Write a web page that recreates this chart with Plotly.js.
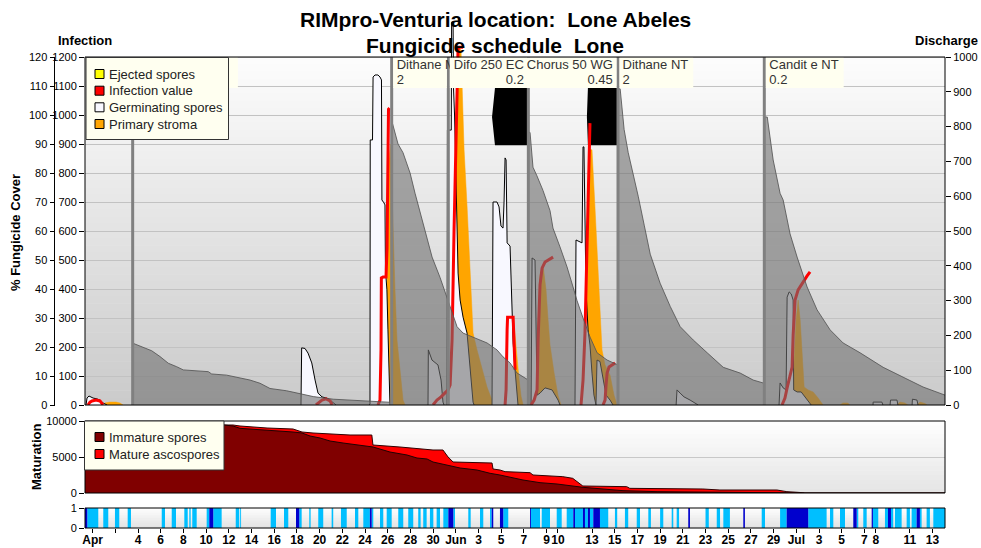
<!DOCTYPE html>
<html><head><meta charset="utf-8">
<script src="https://cdn.plot.ly/plotly-3.0.1.min.js"></script>
<style>html,body{margin:0;padding:0;background:#fff}#chart{width:981px;height:548px}</style>
</head><body><div id="chart"></div>
<script>
// ---------------- DATA (x = days since 30 April 00:00) ----------------
const tickDays = [0,2,4,6,8,10,12,14,16,18,20,22,24,26,28,30,32,34,36,38,40,41,44,46,48,50,52,54,56,58,60,62,64,66,68,69,72,74];
const tickLabels = ['Apr','','4','6','8','10','12','14','16','18','20','22','24','26','28','30','Jun','3','5','7','9','10','13','15','17','19','21','23','25','27','29','Jul','3','5','7','8','11','13'];

// fungicide sprays
const sprayDay  = [3.53, 26.35, 31.34, 38.39, 46.29, 59.18];
const sprayName = ['Captan 800 WG','Dithane M45','Difo 250 EC','Chorus 50 WG','Dithane NT','Candit e NT'];
const sprayDose = ['0.8','2','0.2','0.45','2','0.2'];

// % fungicide cover
const coverDay = [3.55,4.33,4.77,5.21,5.94,6.67,7.41,7.99,10.19,10.49,11.81,12.99,13.87,14.75,15.63,17.1,18.27,19.44,21.21,23.27,24.73,26.35,26.36,26.91,27.35,27.97,28.41,29.03,29.47,29.91,30.61,31.23,32.11,32.64,33.52,34.75,35.63,36.16,36.78,37.4,38.39,38.4,38.54,38.8,39.15,39.68,40.3,40.56,41.18,41.8,42.33,42.68,43.21,43.83,44.45,45.33,46.29,46.3,46.48,46.83,47.19,47.63,48.07,48.6,49.13,50.0,50.89,51.77,52.92,54.15,55.56,57.06,58.2,59.08,59.18,59.19,59.44,59.96,60.57,60.84,61.45,62.07,62.95,63.83,64.98,66.12,67.62,69.65,71.41,73.17,75.1];
const coverPct = [21.3,20.1,19.5,18.7,16.7,14.4,13.2,12.1,11.5,10.7,10.3,9.2,8.6,7.5,5.7,4.9,4.0,2.9,2.0,1.5,1.1,0.9,98,90,87,80,73,64,58,51,44,37,27,24.8,23.4,21.4,19,16.6,14.5,11,8.6,94,94,82,79,74,67,61,54.5,47.6,40.7,36,30,23.4,18,15.5,13.8,109,109,95,87,80,72,62,52,42,34,27,22.4,18,13,11,8.6,7.6,7.5,99.3,99.3,84.5,73,70.7,59,51,40.7,32.8,25.9,21.4,18,13,9.7,6.2,3.4];

// germinating spores (infection scale)
const germDay = [-0.58,-0.49,-0.32,0.04,0.39,0.65,0.92,1.27,null,
 18.36,18.42,18.71,18.98,19.31,19.42,19.6,19.86,20.21,20.74,21.18,21.45,null,
 24.35,24.44,24.46,24.66,24.71,24.88,25.14,25.32,25.45,25.49,25.67,25.76,25.8,25.93,26.02,26.11,26.2,null,
 29.55,29.58,29.9,30.43,30.7,30.87,30.96,null,
 31.23,31.26,31.6,31.63,31.76,31.8,31.89,31.98,32.11,32.2,32.38,32.64,32.99,33.26,33.52,33.61,null,
 35.19,35.28,35.63,35.81,35.98,36.16,36.25,36.34,36.43,36.52,36.78,36.96,37.05,37.22,37.4,37.48,null,
 38.63,38.72,38.98,39.07,39.16,39.42,39.86,40.48,41.01,41.18,null,
 42.5,42.59,43.12,43.21,43.29,43.38,43.47,43.65,43.82,44.0,44.17,44.35,null,
 44.35,44.44,44.7,44.97,45.24,45.59,45.85,null,
 51.41,51.49,51.76,52.11,52.64,53.17,53.35,null,
 60.48,60.57,60.84,61.1,61.19,61.37,61.55,61.72,61.77,62.07,62.43,62.78,63.13,63.31,null,
 68.76,68.77,69.54,69.63,null, 70.26,70.3,70.87,70.95,null, 72.2,72.23,72.63,72.72];
const germVal = [0,24,31,24,21,17,7,0,null,
 0,197,195,179,145,121,86,41,28,22,10,0,null,
 0,3,914,914,1131,1138,1138,1131,1121,707,697,690,466,397,259,86,0,null,
 0,190,155,138,86,10,0,null,
 0,948,948,1320,1320,1090,1000,800,614,455,362,303,248,110,10,0,null,
 0,700,700,683,617,610,700,852,845,559,548,362,214,121,17,0,null,
 0,507,500,259,34,41,59,52,17,0,null,
 0,569,559,890,890,534,397,259,207,110,34,0,null,
 0,155,150,86,34,17,0,null,
 0,52,41,28,17,3,0,null,
 0,76,59,52,372,390,383,362,52,45,45,28,7,0,null,
 0,10,10,0,null, 0,17,17,0,null, 0,20,17,0];

// infection value
const infDay = [-0.41,-0.23,-0.05,0.3,0.65,0.83,0.92,null,
 19.68,19.95,20.21,20.57,20.92,21.1,null,
 25.14,25.32,25.41,25.44,25.59,25.85,25.94,26.03,26.07,26.16,null,
 29.99,30.34,30.7,31.05,31.32,31.5,31.67,31.85,32.02,32.11,32.2,32.64,null,
 36.34,36.43,36.52,36.56,37.05,37.13,37.22,null,
 38.63,38.9,39.16,39.25,39.42,39.6,39.86,40.13,40.57,null,
 43.03,43.21,43.38,43.55,43.73,43.82,null,
 44.97,45.15,45.24,45.33,45.5,45.77,46.03,null,
 60.74,61.0,61.19,61.45,61.63,61.72,61.89,62.16,62.42,62.69,62.95,63.21];
const infVal = [0,10,14,17,14,7,0,null,
 0,10,17,21,14,0,null,
 0,17,190,438,441,441,540,880,1020,1024,null,
 0,17,28,41,52,69,224,614,914,1121,1234,1234,null,
 0,52,259,303,303,224,121,null,
 0,17,52,224,414,472,493,500,510,null,
 0,86,248,545,776,972,null,
 0,17,69,110,131,138,145,null,
 0,24,59,103,131,241,362,397,414,431,445,459];

// primary stroma
const stromaDay = [0.92,1.09,1.53,2.06,2.41,2.68,null,
 25.76,25.94,26.12,26.25,26.38,26.51,26.64,26.82,27.09,27.35,27.53,null,
 31.67,31.94,32.07,32.2,32.46,32.55,32.73,32.99,33.26,33.52,33.87,34.31,34.75,35.28,35.55,null,
 36.6,36.87,37.05,37.22,37.4,37.57,37.75,37.93,null,
 38.98,39.25,39.42,39.68,39.95,40.13,40.3,40.66,41.0,41.27,null,
 43.47,43.65,43.82,44.0,44.26,44.53,44.88,45.15,45.59,45.94,46.21,null,
 61.45,61.72,61.98,62.16,62.34,62.51,62.69,63.04,63.48,63.92,64.36,null,
 65.85,66.1,66.55,66.7,null, 70.87,71.13,71.57,71.83,null, 72.63,72.9,73.34,73.52];
const stromaVal = [0,7,10,10,7,0,null,
 0,400,850,900,700,600,400,224,110,17,0,null,
 0,600,1100,1234,1224,1090,880,686,455,248,190,121,62,7,0,null,
 0,200,303,240,150,90,30,0,null,
 0,259,448,483,397,293,207,110,34,0,null,
 0,700,880,880,683,455,190,138,103,34,0,null,
 0,86,293,362,293,155,62,52,45,24,0,null,
 0,7,7,0,null, 0,10,7,0,null, 0,10,5,0];

// ejected spores rendered black (over-range blocks)
const ejectDay = [35.45,38.39,38.39,35.45,35.19,35.45,null,43.64,46.29,46.29,43.64,43.55,43.64];
const ejectVal = [1093,1093,896,896,993,1093,null,1093,1093,896,896,993,1093];

// maturation
const immDay = [-0.67,5.0,10.0,11.58,12.37,12.99,15.37,17.66,18.45,19.16,20.04,20.92,22.07,23.56,24.71,26.2,27.7,28.58,29.47,29.99,31.23,32.38,33.87,35.02,35.89,37.92,39.42,40.92,43.21,44.97,46.73,49.73,54.13,61.18,62.76,75.1];
const immVal = [9950,9800,9600,9444,9306,8981,8750,8472,8333,7917,7639,7222,6944,6667,6389,5694,5278,4861,4722,4306,3889,3472,3194,2736,2500,1806,1435,1250,787,509,324,185,93,46,0,0];
const totDay = [-0.67,5.0,10.0,11.5,12.37,12.99,15.37,17.66,18.45,19.42,21.18,22.68,24.6,24.7,27.08,29.99,30.87,31.32,31.76,34.14,35.19,35.28,35.89,36.34,38.54,38.8,41.43,42.3,42.92,43.19,47.06,47.33,53.77,55.27,60.29,61.17,62.58,62.76,75.1];
const totVal = [9950,9800,9600,9444,9444,9306,9028,8889,8472,8333,8194,8056,8056,6667,6389,5972,5972,5000,4306,4167,4167,3333,3194,2963,2824,2500,2268,2037,1343,972,880,648,556,417,417,185,46,0,0];

// leaf wetness periods
const wetStart = [-0.47,0.94,1.97,3.09,6.09,6.97,8.08,8.52,8.78,10.05,10.63,12.61,13.0,15.69,16.86,18.21,19.09,19.88,21.06,21.88,23.12,23.85,24.59,25.32,25.91,26.93,27.81,28.69,29.13,29.72,30.31,30.9,31.78,33.1,34.13,35.01,36.18,38.62,39.57,40.89,41.77,42.5,43.38,43.82,44.7,46.02,46.9,47.94,48.96,50.0,51.02,51.46,54.0,54.99,55.57,58.95,60.57,63.05,64.97,65.85,67.32,67.9,68.75,69.81,70.34,70.69,71.72,72.16,72.89,73.48,74.07];
const wetEnd   = [0.5,1.38,2.35,3.38,6.38,7.35,8.38,8.64,9.17,10.28,11.37,12.92,13.08,16.16,17.24,18.42,19.21,20.32,21.2,22.39,23.41,24.43,24.73,25.61,26.35,27.37,28.25,28.9,29.43,30.02,30.61,31.34,31.93,33.31,34.42,35.16,36.62,39.42,40.3,41.33,42.35,43.2,43.64,44.11,45.43,46.22,47.19,48.23,49.19,50.28,51.16,51.67,54.29,55.28,56.15,59.24,61.15,64.67,65.26,66.29,67.46,68.2,69.22,70.08,70.54,71.28,72.01,72.6,73.04,73.77,75.1];
const rainStart = [-0.67,10.28,17.92,24.43,31.34,35.16,35.89,38.54,42.35,43.2,43.64,44.11,52.48,57.33,61.15,67.02,68.64,70.08,72.6];
const rainEnd   = [-0.47,10.63,18.21,24.59,31.78,35.3,36.18,38.62,42.5,43.38,43.82,44.7,52.63,57.47,63.05,67.32,68.75,70.34,72.89];

// ---------------- LAYOUT HELPERS ----------------
const W=981,H=548;
const PX=x=>x/W, PY=y=>1-y/H;
const X0=85,X1=945, MT=57, MB=405, ET=15, QT=421, QB=493, WT=508, WB=528;
const LEG_R=228.5;
const xRange=[-0.67,75.1];
const ext=(MB-ET)/(MB-MT);
const pxPerDay=(X1-X0)/(xRange[1]-xRange[0]);
const d2p=d=>X0+(d-xRange[0])*pxPerDay, p2d=p=>xRange[0]+(p-X0)/pxPerDay;
const infAt=py=>(MB-py)*1200/(MB-MT);
const FONT="Liberation Sans, Arial, sans-serif";
const range=(a,b,s)=>{const r=[];for(let v=a;v<=b+1e-9;v+=s)r.push(v);return r;};

const ctx=document.createElement('canvas').getContext('2d');
ctx.font="13px 'Liberation Sans'";
const tw=s=>ctx.measureText(s).width;
// keep only the glyphs whose centre is inside [lo,hi] (emulates the clipping of the label area)
function clipText(str,startPx,lo,hi){
  let first=-1,last=-1;
  for(let k=0;k<str.length;k++){
    const c=startPx+(tw(str.slice(0,k))+tw(str.slice(0,k+1)))/2;
    if(c>=lo&&c<=hi){if(first<0)first=k;last=k;}
  }
  if(first<0)return null;
  return {text:str.slice(first,last+1).trim(),start:startPx+tw(str.slice(0,first))};
}

const traces=[];
traces.push({x:ejectDay,y:ejectVal,mode:'lines',fill:'toself',fillcolor:'#000',line:{width:0,color:'#000'},xaxis:'x',yaxis:'y',hoverinfo:'skip'});
traces.push({x:stromaDay,y:stromaVal,mode:'lines',fill:'tozeroy',fillcolor:'#FFA500',line:{width:0.5,color:'#FFA500'},xaxis:'x',yaxis:'y',hoverinfo:'skip'});
traces.push({x:germDay,y:germVal,mode:'lines',fill:'tozeroy',fillcolor:'#F8F8FF',line:{width:1,color:'#000'},xaxis:'x',yaxis:'y',hoverinfo:'skip'});
traces.push({x:infDay,y:infVal,mode:'lines',line:{width:3,color:'#FF0000'},xaxis:'x',yaxis:'y',hoverinfo:'skip'});
// fungicide cover (overlay, drawn above infection data)
traces.push({x:coverDay,y:coverPct,mode:'lines',fill:'tozeroy',fillcolor:'rgba(112,112,112,0.6)',line:{width:1,color:'rgba(85,85,85,0.85)'},xaxis:'x',yaxis:'y2',hoverinfo:'skip'});
// spray lines
const sx=[],sy=[];
sprayDay.forEach(d=>{sx.push(d,d,null);sy.push(0,1000,null);});
traces.push({x:sx,y:sy,mode:'lines',line:{width:3,color:'#808080'},xaxis:'x',yaxis:'y3',hoverinfo:'skip'});
// spray label boxes + texts (top overlay); each later box hides the overflow of the previous label
const doseAlign=['left','left','right','right','left','left'];
const nameShiftPx=[7,5,5.5,-1.5,4.5,5];
sprayDay.forEach((d,i)=>{
  const sp=d2p(d);
  const nextLine=i<sprayDay.length-1?d2p(sprayDay[i+1]):X1;
  const lo=i===0?LEG_R:-1e9;
  const hi=nextLine+3;
  const ns=sp+nameShiftPx[i];
  const wn=tw(sprayName[i]);
  const bs=Math.min(sp+1.5,ns-1), be=Math.min(ns+wn+5,nextLine-1.5);
  const b0=infAt(88), b1=infAt(57.5);
  traces.push({x:[p2d(bs),p2d(be),p2d(be),p2d(bs),p2d(bs)],y:[b0,b0,b1,b1,b0],mode:'lines',fill:'toself',fillcolor:'#FFFFF0',line:{width:0},xaxis:'x',yaxis:'y6',hoverinfo:'skip'});
  const right=doseAlign[i]==='right';
  const tx=[],ty=[],tt=[],tp=[];
  const nm=clipText(sprayName[i],ns,lo,hi);
  if(nm){tx.push(p2d(nm.start));ty.push(infAt(66));tt.push(nm.text);tp.push('middle right');}
  const wd=tw(sprayDose[i]);
  const ds=right?ns+wn-wd:ns;
  const dz=clipText(sprayDose[i],ds,lo,hi);
  if(dz){
    if(right){tx.push(p2d(dz.start+tw(dz.text)));tp.push('middle left');}
    else{tx.push(p2d(dz.start));tp.push('middle right');}
    ty.push(infAt(81));tt.push(dz.text);
  }
  if(tt.length)traces.push({x:tx,y:ty,text:tt,mode:'text',textposition:tp,textfont:{family:FONT,size:13,color:'#333'},xaxis:'x',yaxis:'y6',hoverinfo:'skip'});
});
// maturation
traces.push({x:totDay,y:totVal,mode:'lines',fill:'tozeroy',fillcolor:'#FF0000',line:{width:1,color:'#300000'},xaxis:'x2',yaxis:'y4',hoverinfo:'skip'});
traces.push({x:immDay,y:immVal,mode:'lines',fill:'tozeroy',fillcolor:'#800000',line:{width:1,color:'#200000'},xaxis:'x2',yaxis:'y4',hoverinfo:'skip'});
// wetness bars
traces.push({type:'bar',x:wetStart.map((s,i)=>(s+wetEnd[i])/2),width:wetStart.map((s,i)=>wetEnd[i]-s),y:wetStart.map(()=>1),marker:{color:'#00BFFF',line:{width:0}},xaxis:'x3',yaxis:'y5',hoverinfo:'skip'});
traces.push({type:'bar',x:rainStart.map((s,i)=>(s+rainEnd[i])/2),width:rainStart.map((s,i)=>rainEnd[i]-s),y:rainStart.map(()=>1),marker:{color:'#0000CD',line:{width:0}},xaxis:'x3',yaxis:'y5',hoverinfo:'skip'});

// shapes
const shapes=[];
function gradient(top,bot,c0,c1,n){
  for(let i=0;i<n;i++){
    const y0=top+(bot-top)*i/n, y1=top+(bot-top)*(i+1)/n;
    const c=Math.round(c0+(c1-c0)*(i+0.5)/n);
    shapes.push({type:'rect',xref:'paper',yref:'paper',x0:PX(X0),x1:PX(X1),y0:PY(y0-0.3),y1:PY(y1+0.3),fillcolor:`rgb(${c},${c},${c})`,line:{width:0},layer:'below'});
  }
}
gradient(MT,MB,253,202,48);
gradient(QT,QB,255,228,16);
gradient(WT,WB,255,225,8);
const box=(x0,y0,x1,y1,fill,lc,lw,layer)=>shapes.push({type:'rect',xref:'paper',yref:'paper',x0:PX(x0),x1:PX(x1),y0:PY(y0),y1:PY(y1),fillcolor:fill,line:{color:lc,width:lw},layer:layer||'above'});
box(X0,MT,X1,MB,'rgba(0,0,0,0)','#000',1);
box(X0,QT,X1,QB,'rgba(0,0,0,0)','#000',1);
box(X0,WT,X1,WB,'rgba(0,0,0,0)','#000',1);
shapes.push({type:'line',xref:'paper',yref:'paper',x0:PX(54.5),x1:PX(54.5),y0:PY(MT),y1:PY(MB),line:{color:'#000',width:1}});
// legends
box(86,57.5,LEG_R,139.5,'#FFFFF0','#333',1);
box(84.5,421,224,470,'#FFFFF0','#333',1);
const legMain=[['Ejected spores','#FFFF00',74],['Infection value','#FF0000',90.7],['Germinating spores','#F8F8FF',107.3],['Primary stroma','#FFA500',124]];
const legMat=[['Immature spores','#800000',437],['Mature ascospores','#FF0000',454]];
const annotations=[];
[...legMain,...legMat].forEach(([t,c,y])=>{
  box(95,y-4.5,104,y+4.5,c,'#000',1);
  annotations.push({xref:'paper',yref:'paper',x:PX(107),y:PY(y),xanchor:'left',yanchor:'middle',text:t,showarrow:false,font:{family:FONT,size:13,color:'#222'}});
});
const ann=(t,x,y,size,extra)=>annotations.push(Object.assign({xref:'paper',yref:'paper',x:PX(x),y:PY(y),xanchor:'center',yanchor:'middle',text:t,showarrow:false,font:{family:FONT,size:size,color:'#000'}},extra||{}));
ann('<b>RIMpro-Venturia location:&nbsp; Lone Abeles</b>',495,20,21);
ann('<b>Fungicide schedule&nbsp; Lone</b>',495,46,21);
ann('<b>Infection</b>',85,41,13);
ann('<b>Discharge</b>',946,41,13);
ann('<b>% Fungicide Cover</b>',15,233,13,{textangle:-90});
ann('<b>Maturation</b>',36,457,13,{textangle:-90});

const axBase={showgrid:false,zeroline:false,showline:false,fixedrange:true,tickcolor:'#000',tickfont:{family:FONT,size:11,color:'#000'}};
const layout={
  width:W,height:H,margin:{l:0,r:0,t:0,b:0,pad:0},paper_bgcolor:'#fff',plot_bgcolor:'rgba(0,0,0,0)',
  showlegend:false,barmode:'overlay',font:{family:FONT,size:11,color:'#000'},
  xaxis:Object.assign({},axBase,{domain:[PX(X0),PX(X1)],range:xRange,anchor:'y',showticklabels:false,ticks:''}),
  yaxis:Object.assign({},axBase,{domain:[PY(MB),PY(ET)],range:[0,1200*ext],tickvals:range(0,1200,100),ticks:'outside',ticklen:5,showgrid:true,gridcolor:'#C2C2C2',gridwidth:1}),
  yaxis2:Object.assign({},axBase,{overlaying:'y',anchor:'free',position:PX(54.5),range:[0,120*ext],tickvals:range(0,120,10),ticks:'outside',ticklen:5}),
  yaxis3:Object.assign({},axBase,{overlaying:'y',side:'right',anchor:'x',range:[0,1000*ext],tickvals:range(0,1000,100),ticks:'outside',ticklen:5}),
  yaxis6:Object.assign({},axBase,{overlaying:'y',anchor:'x',range:[0,1200*ext],visible:false}),
  xaxis2:Object.assign({},axBase,{domain:[PX(X0),PX(X1)],range:xRange,anchor:'y4',showticklabels:false,ticks:''}),
  yaxis4:Object.assign({},axBase,{domain:[PY(QB),PY(QT)],anchor:'x2',range:[0,10000],tickvals:[0,5000,10000],ticktext:['0','5000','10000'],ticks:'outside',ticklen:5,showgrid:true,gridcolor:'#C8C8C8'}),
  xaxis3:Object.assign({},axBase,{domain:[PX(X0),PX(X1)],range:xRange,anchor:'y5',tickvals:tickDays,ticktext:tickLabels,ticks:'outside',ticklen:4,ticklabelstandoff:-3,tickangle:0,tickfont:{family:FONT,size:12,color:'#000',weight:'bold'}}),
  yaxis5:Object.assign({},axBase,{domain:[PY(WB),PY(WT)],anchor:'x3',range:[0,1],tickvals:[0,1],ticks:'outside',ticklen:5}),
  shapes:shapes,annotations:annotations
};
Plotly.newPlot('chart',traces,layout,{staticPlot:true,displayModeBar:false});
</script></body></html>
